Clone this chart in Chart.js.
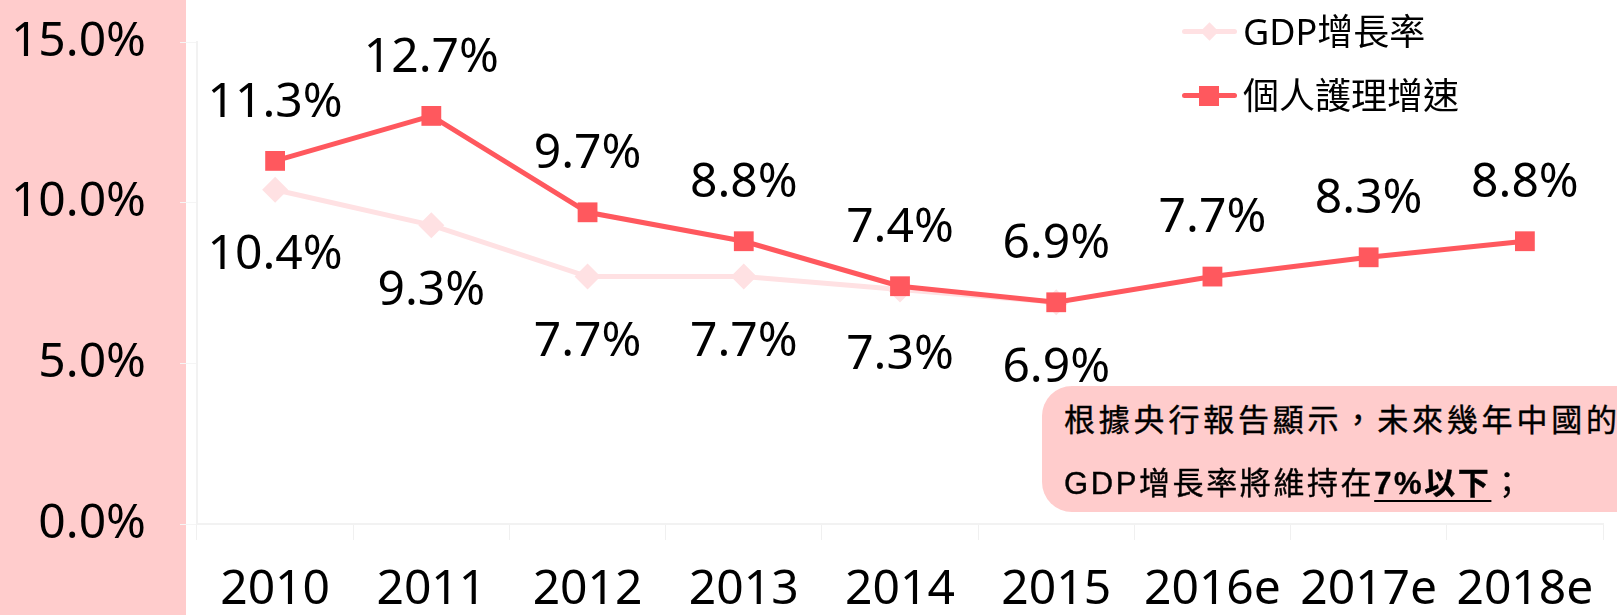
<!DOCTYPE html>
<html>
<head>
<meta charset="utf-8">
<script src="https://cdn.jsdelivr.net/npm/chart.js@4/dist/chart.umd.min.js"></script>
<style>
  html, body { margin: 0; padding: 0; overflow: hidden; }
  body {
    width: 1617px; height: 615px; position: relative;
    background: linear-gradient(to right, #FFCCCC 186px, #FFFFFF 186px);
    font-family: "Noto Sans", "Noto Sans CJK TC", sans-serif;
  }
  #wrap { position: absolute; left: 0; top: 0; width: 1617px; height: 615px; }
  .leg { position: absolute; left: 1182px; height: 40px; }
  .leg .ln { position: absolute; left: 0; width: 55px; height: 5px; top: 17px; border-radius: 3px; }
  .leg .mk { position: absolute; }
  .leg .tx { position: absolute; left: 61px; top: 0; line-height: 40px; font-size: 36px; white-space: nowrap; color: #000;
             font-family: "Noto Sans", "Noto Sans CJK TC", sans-serif; }
  #note {
    position: absolute; left: 1042px; top: 386px; width: 640px; height: 126px;
    background: #FFCCCC; border-radius: 30px;
  }
  #note div {
    position: absolute; left: 22px; white-space: nowrap; font-size: 31px; line-height: 40px; color: #000;
    letter-spacing: 3.8px; -webkit-text-stroke: 0.4px #000;
    font-family: "Liberation Sans", "Noto Sans CJK TC", sans-serif;
  }
  #note div.l2 { letter-spacing: 2.6px; }
  #note b { text-decoration: underline; text-underline-offset: 6px; text-decoration-thickness: 2px; }
</style>
</head>
<body>
<div id="wrap"><canvas id="chart"></canvas></div>

<div class="leg" style="top:12px">
  <div class="ln" style="background:#FFE1E3"></div>
  <div class="mk" style="left:21px; top:13px; width:13px; height:13px; background:#FFE1E3; transform:rotate(45deg)"></div>
  <div class="tx">GDP增長率</div>
</div>
<div class="leg" style="top:76px">
  <div class="ln" style="background:#FF585E"></div>
  <div class="mk" style="left:17px; top:10px; width:20px; height:20px; background:#FF585E"></div>
  <div class="tx">個人護理增速</div>
</div>

<div id="note">
  <div style="top:15px">根據央行報告顯示，未來幾年中國的</div>
  <div class="l2" style="top:78px">GDP增長率將維持在<b>7%以下</b>；</div>
</div>

<script>
// categories and series
const years = ['2010', '2011', '2012', '2013', '2014', '2015', '2016e', '2017e', '2018e'];
const gdpGrowth = [10.4, 9.3, 7.7, 7.7, 7.3, 6.9, null, null, null];
const careGrowth = [11.3, 12.7, 9.7, 8.8, 7.4, 6.9, 7.7, 8.3, 8.8];
const yTicks = [0, 5, 10, 15];

const gdpColor = '#FFE1E3';
const careColor = '#FF585E';
const fontFamily = '"Noto Sans", "Noto Sans CJK TC", sans-serif';

// value labels: care above the point, gdp below
const valueLabels = {
  id: 'valueLabels',
  afterDatasetsDraw(chart) {
    const ctx = chart.ctx;
    ctx.save();
    ctx.font = '48px ' + fontFamily;
    ctx.fillStyle = '#000';
    ctx.textAlign = 'center';
    ctx.textBaseline = 'middle';
    chart.data.datasets.forEach((ds, i) => {
      const meta = chart.getDatasetMeta(i);
      const off = ds.labelOffset;
      meta.data.forEach((pt, j) => {
        const v = ds.data[j];
        if (v === null || v === undefined) return;
        ctx.fillText(v.toFixed(1) + '%', pt.x, pt.y + off);
      });
    });
    ctx.restore();
  }
};

const chart = new Chart(document.getElementById('chart'), {
  type: 'line',
  data: {
    labels: years,
    datasets: [
      {
        label: 'GDP增長率',
        data: gdpGrowth,
        borderColor: gdpColor,
        backgroundColor: gdpColor,
        borderWidth: 5,
        pointStyle: 'rectRot',
        pointRadius: 13,
        pointBorderWidth: 0,
        tension: 0,
        spanGaps: false,
        order: 2,
        labelOffset: 66
      },
      {
        label: '個人護理增速',
        data: careGrowth,
        borderColor: careColor,
        backgroundColor: careColor,
        borderWidth: 5,
        pointStyle: 'rect',
        pointRadius: 14,
        pointBorderWidth: 0,
        tension: 0,
        order: 1,
        labelOffset: -58
      }
    ]
  },
  options: {
    responsive: true,
    maintainAspectRatio: false,
    animation: false,
    layout: { padding: { top: 42, right: 1, left: 0, bottom: 0 } },
    plugins: {
      legend: { display: false },
      tooltip: { enabled: false }
    },
    scales: {
      x: {
        offset: true,
        grid: { display: true, drawOnChartArea: false, tickLength: 16, color: '#F0F0F0', offset: true },
        border: { display: true, color: '#F2F2F2', width: 2 },
        ticks: { color: '#000', padding: 22, font: { family: fontFamily, size: 48 }, maxRotation: 0, autoSkip: false },
        afterFit: (s) => { s.height = 91; s.paddingLeft = 0; s.paddingRight = 0; }
      },
      y: {
        min: 0,
        max: 15,
        afterBuildTicks: (s) => { s.ticks = yTicks.map(v => ({ value: v })); },
        grid: { display: true, drawOnChartArea: false, tickLength: 17, color: '#F5F5F5' },
        border: { display: true, color: '#F2F2F2', width: 2 },
        ticks: {
          color: '#000',
          padding: 34,
          font: { family: fontFamily, size: 48 },
          callback: v => v.toFixed(1) + '%'
        },
        afterFit: (s) => { s.width = 197; s.paddingTop = 0; s.paddingBottom = 0; }
      }
    }
  },
  plugins: [valueLabels]
});
</script>
</body>
</html>
